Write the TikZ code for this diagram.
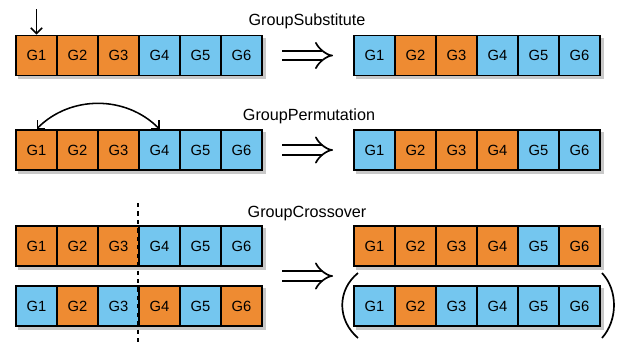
\documentclass[tikz,border=0pt]{standalone}
\usepackage{fontspec}
\setmainfont{Liberation Sans}
\usetikzlibrary{positioning, calc, arrows.meta, backgrounds}

\definecolor{gorange}{HTML}{EE8B32}
\definecolor{gblue}{HTML}{74C6EF}
\definecolor{shadowgray}{HTML}{C8C8C8}

% one chromosome of six groups: name, x of first centre, y, colours
\newcommand{\chrom}[4]{%
  \foreach \c [count=\i] in {#4}
    \node[cell, fill=\c] (#1\i) at ({#2+41*(\i-1)}, #3) {G\i};
  \begin{scope}[on background layer]
    \fill[shadowgray] ($(#11.north west)+(3,3)$) rectangle ($(#16.south east)+(3,3)$);
  \end{scope}
}

\begin{document}
\begin{tikzpicture}[x=0.025cm, y=-0.025cm,
    cell/.style={draw, line width=1.3pt, minimum width=1.025cm, minimum height=1cm,
      inner sep=0pt, font=\fontsize{10.5}{12}\selectfont},
    optitle/.style={anchor=base, font=\fontsize{11.5}{14}\selectfont},
    implies/.style={double, double distance=5.6pt, line width=1.2pt, -Implies},
    pick/.style={line width=1.1pt, -{Straight Barb[length=4pt, width=8pt]}}]
  \useasboundingbox (0,0) rectangle (621,345);

  % GroupSubstitute
  \node[optitle] (tsub) at (307,25) {GroupSubstitute};
  \chrom{sa}{36.5}{55.5}{gorange,gorange,gorange,gblue,gblue,gblue}
  \chrom{sb}{374.5}{55.5}{gblue,gorange,gorange,gblue,gblue,gblue}
  \coordinate (subtop) at (36.5,9);
  \draw[pick] (subtop) -- (sa1.north);
  \coordinate (ia) at (282,55.5);
  \coordinate (ib) at (333,55.5);
  \draw[implies] (ia) -- (ib);

  % GroupPermutation
  \node[optitle] (tperm) at (309,120) {GroupPermutation};
  \chrom{pa}{36.5}{150}{gorange,gorange,gorange,gblue,gblue,gblue}
  \chrom{pb}{374.5}{150}{gblue,gorange,gorange,gorange,gblue,gblue}
  \draw[pick, {Straight Barb[length=4pt, width=8pt]}-{Straight Barb[length=4pt, width=8pt]}]
    (pa1.north) to[bend left=45] (pa4.north);
  \coordinate (ic) at (282,150);
  \coordinate (id) at (333,150);
  \draw[implies] (ic) -- (id);

  % GroupCrossover
  \node[optitle] (tcross) at (307,217) {GroupCrossover};
  \chrom{ca}{36.5}{246}{gorange,gorange,gorange,gblue,gblue,gblue}
  \chrom{cb}{36.5}{306}{gblue,gorange,gblue,gorange,gblue,gorange}
  \chrom{cc}{374.5}{246}{gorange,gorange,gorange,gorange,gblue,gorange}
  \chrom{cd}{374.5}{306}{gblue,gorange,gblue,gblue,gblue,gblue}
  \coordinate (cuttop) at (138,203);
  \coordinate (cutbot) at (138,345);
  \draw[dashed, line width=1pt] (cuttop) -- (cutbot);
  \coordinate (ie) at (282,276);
  \coordinate (if) at (333,276);
  \draw[implies] (ie) -- (if);
  % brackets round the second child
  \draw[line width=1.2pt] (358,273) .. controls (337,290) and (337,320) .. (358,338);
  \draw[line width=1.2pt] (602,273) .. controls (618,290) and (618,320) .. (602,338);
\end{tikzpicture}
\end{document}
